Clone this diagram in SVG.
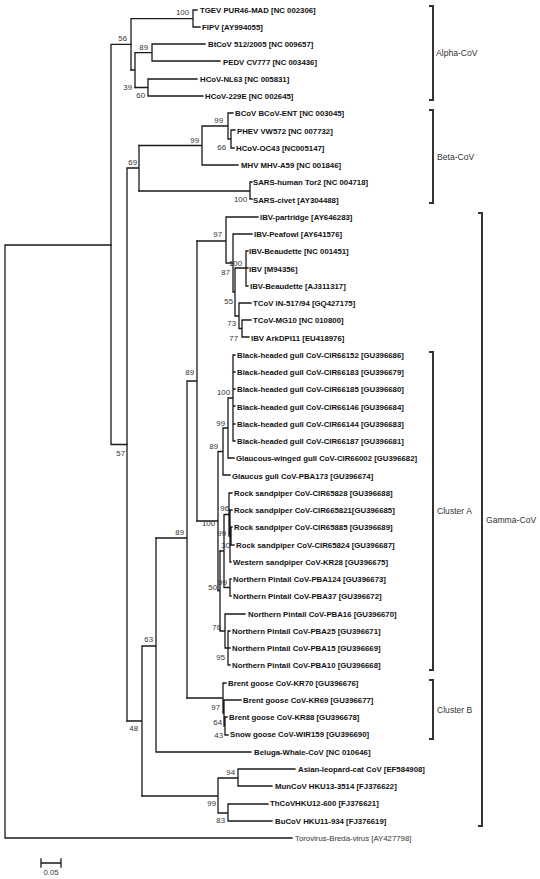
<svg xmlns="http://www.w3.org/2000/svg" width="540" height="879" viewBox="0 0 540 879">
<style>
.t{fill:none;stroke:#1a1a1a;stroke-width:1.3;stroke-linecap:square}
.b{fill:none;stroke:#333;stroke-width:2}
.lf{font-family:"Liberation Sans",Arial,sans-serif;font-size:7.8px;font-weight:bold;fill:#111}
.lr{font-family:"Liberation Sans",Arial,sans-serif;font-size:7.8px;fill:#333}
.bs{font-family:"Liberation Sans",Arial,sans-serif;font-size:7.8px;fill:#333;text-anchor:end}
.g{font-family:"Liberation Sans",Arial,sans-serif;font-size:8.6px;fill:#333}
</style>
<rect width="540" height="879" fill="#fff"/>
<g id="connectors" class="t">
<path d="M5,245V838M5,245H111M5,838H292"/>
<path d="M111,44.3V444.5M111,44.3H131M111,444.5H127"/>
<path d="M131,18.6V70M131,18.6H193M193,10V27M193,10H197M193,27H200"/>
<path d="M131,70H135M135,52.6V87.5M135,52.6H152M152,44V61M152,44H205M152,61H220"/>
<path d="M135,87.5H148M148,79V96M148,79H197M148,96H203"/>
<path d="M127,168V721M127,168H139M139,145.5V191"/>
<path d="M139,145.5H202M202,126V165M202,165H238M202,126H228M228,113V139M228,113H233M228,139H231M231,130V148M231,130H235M231,148H234"/>
<path d="M139,191H250M250,182V199M250,182H252M250,199H252"/>
<path d="M127,721H142M142,646V796M142,646H156M156,538V752M156,752H251"/>
<path d="M156,538H187M187,381V698M187,381H197M197,241V521"/>
<path d="M197,241H226M226,217V263M226,217H258M226,263H233M233,234V292M233,234H252M233,292H235M235,268V316M235,268H246M246,251V286M246,251H248M246,268H248M246,286H248M235,316H239M239,303V328.5M239,303H251M239,328.5H242M242,320V337M242,320H251M242,337H249"/>
<path d="M197,521H218M218,451.5V590.5M218,451.5H223M223,428V475M223,475H230M223,428H228M228,398V458M228,458H234M228,398H233M233,355V441M233,355H235M233,372H235M233,389H235M233,406H235M233,424H235M233,441H235"/>
<path d="M218,590.5H220M220,551V631M220,631H225M225,614V648M225,614H245M225,648H228M228,631V665M228,631H230M228,648H230M228,665H230"/>
<path d="M220,551H224M224,514.5V587.5M224,587.5H230M230,579V596M230,579H231M230,596H231M224,514.5H229M229,493V536M229,493H232M229,536H230M230,510V562M230,510H232M230,562H231M230,536H231M231,527V545M231,527H232M231,545H234"/>
<path d="M187,698H223M223,683V713M223,683H226M223,713H224M224,700V726M224,700H241M224,726H225M225,717V735M225,717H227M225,735H228"/>
<path d="M142,796H218M218,778V813M218,778H238M238,769V786M238,769H295M238,786H272M218,813H228M228,804V821M228,804H268M228,821H272"/>
</g>
<g id="leaves">
<text class="lf" x="200" y="12.8">TGEV PUR46-MAD [NC 002306]</text>
<text class="lf" x="202" y="30">FIPV [AY994055]</text>
<text class="lf" x="208" y="47.3">BtCoV 512/2005 [NC 009657]</text>
<text class="lf" x="223" y="64.5">PEDV CV777 [NC 003436]</text>
<text class="lf" x="200" y="81.8">HCoV-NL63 [NC 005831]</text>
<text class="lf" x="205" y="99">HCoV-229E [NC 002645]</text>
<text class="lf" x="235" y="116.3">BCoV BCoV-ENT [NC 003045]</text>
<text class="lf" x="237" y="133.5">PHEV VW572 [NC 007732]</text>
<text class="lf" x="236" y="150.8">HCoV-OC43 [NC005147]</text>
<text class="lf" x="241" y="168">MHV MHV-A59 [NC 001846]</text>
<text class="lf" x="253" y="185.3">SARS-human Tor2 [NC 004718]</text>
<text class="lf" x="253" y="202.5">SARS-civet [AY304488]</text>
<text class="lf" x="260" y="219.8">IBV-partridge [AY646283]</text>
<text class="lf" x="254" y="237">IBV-Peafowl [AY641576]</text>
<text class="lf" x="249" y="254.3">IBV-Beaudette [NC 001451]</text>
<text class="lf" x="249" y="271.5">IBV [M94356]</text>
<text class="lf" x="250" y="288.8">IBV-Beaudette [AJ311317]</text>
<text class="lf" x="253" y="306">TCoV IN-517/94 [GQ427175]</text>
<text class="lf" x="253" y="323.3">TCoV-MG10 [NC 010800]</text>
<text class="lf" x="251" y="340.5">IBV ArkDPI11 [EU418976]</text>
<text class="lf" x="237" y="357.8">Black-headed gull CoV-CIR66152 [GU396686]</text>
<text class="lf" x="237" y="375">Black-headed gull CoV-CIR66183 [GU396679]</text>
<text class="lf" x="237" y="392.3">Black-headed gull CoV-CIR66185 [GU396680]</text>
<text class="lf" x="237" y="409.5">Black-headed gull CoV-CIR66146 [GU396684]</text>
<text class="lf" x="237" y="426.8">Black-headed gull CoV-CIR66144 [GU396683]</text>
<text class="lf" x="237" y="444">Black-headed gull CoV-CIR66187 [GU396681]</text>
<text class="lf" x="236" y="461.3">Glaucous-winged gull CoV-CIR66002 [GU396682]</text>
<text class="lf" x="232" y="478.5">Glaucus gull CoV-PBA173 [GU396674]</text>
<text class="lf" x="234" y="495.8">Rock sandpiper CoV-CIR65828 [GU396688]</text>
<text class="lf" x="234" y="513">Rock sandpiper CoV-CIR665821[GU396685]</text>
<text class="lf" x="234" y="530.3">Rock sandpiper CoV-CIR65885 [GU396689]</text>
<text class="lf" x="236" y="547.5">Rock sandpiper CoV-CIR65824 [GU396687]</text>
<text class="lf" x="233" y="564.8">Western sandpiper CoV-KR28 [GU396675]</text>
<text class="lf" x="233" y="582">Northern Pintail CoV-PBA124 [GU396673]</text>
<text class="lf" x="233" y="599.3">Northern Pintail CoV-PBA37 [GU396672]</text>
<text class="lf" x="248" y="616.5">Northern Pintail CoV-PBA16 [GU396670]</text>
<text class="lf" x="232" y="633.8">Northern Pintail CoV-PBA25 [GU396671]</text>
<text class="lf" x="232" y="651">Northern Pintail CoV-PBA15 [GU396669]</text>
<text class="lf" x="232" y="668.3">Northern Pintail CoV-PBA10 [GU396668]</text>
<text class="lf" x="228" y="685.5">Brent goose CoV-KR70 [GU396676]</text>
<text class="lf" x="243" y="702.8">Brent goose CoV-KR69 [GU396677]</text>
<text class="lf" x="229" y="720">Brent goose CoV-KR88 [GU396678]</text>
<text class="lf" x="230" y="737.3">Snow goose CoV-WIR159 [GU396690]</text>
<text class="lf" x="254" y="754.5">Beluga-Whale-CoV [NC 010646]</text>
<text class="lf" x="298" y="771.8">Asian-leopard-cat CoV [EF584908]</text>
<text class="lf" x="275" y="789">MunCoV HKU13-3514 [FJ376622]</text>
<text class="lf" x="270" y="806.3">ThCoVHKU12-600 [FJ376621]</text>
<text class="lf" x="275" y="823.5">BuCoV HKU11-934 [FJ376619]</text>
<text class="lr" x="295" y="840.8">Torovirus-Breda-virus [AY427798]</text>
</g>
<g id="bootstrap">
<text class="bs" x="189" y="15">100</text>
<text class="bs" x="127" y="41">56</text>
<text class="bs" x="148" y="50">89</text>
<text class="bs" x="132" y="90">39</text>
<text class="bs" x="145" y="98">60</text>
<text class="bs" x="223" y="123">99</text>
<text class="bs" x="199" y="143">99</text>
<text class="bs" x="226" y="150">66</text>
<text class="bs" x="137" y="165">69</text>
<text class="bs" x="247" y="202">100</text>
<text class="bs" x="222" y="237">97</text>
<text class="bs" x="242" y="266">100</text>
<text class="bs" x="230" y="275">87</text>
<text class="bs" x="233" y="304">55</text>
<text class="bs" x="236" y="326">73</text>
<text class="bs" x="238" y="341">77</text>
<text class="bs" x="194" y="375">89</text>
<text class="bs" x="230" y="395">100</text>
<text class="bs" x="225" y="426">99</text>
<text class="bs" x="218" y="449">89</text>
<text class="bs" x="125" y="456">57</text>
<text class="bs" x="229" y="511">96</text>
<text class="bs" x="215" y="526">100</text>
<text class="bs" x="184" y="535">89</text>
<text class="bs" x="226" y="536">99</text>
<text class="bs" x="230" y="548">30</text>
<text class="bs" x="227" y="585">99</text>
<text class="bs" x="217" y="590">50</text>
<text class="bs" x="221" y="630">76</text>
<text class="bs" x="153" y="642">63</text>
<text class="bs" x="225" y="660">95</text>
<text class="bs" x="220" y="710">97</text>
<text class="bs" x="222" y="725">64</text>
<text class="bs" x="138" y="731">48</text>
<text class="bs" x="223" y="738">43</text>
<text class="bs" x="235" y="775">94</text>
<text class="bs" x="216" y="806">99</text>
<text class="bs" x="225" y="823">83</text>
</g>
<g id="alpha-cov"><path class="b" d="M429,6H433V100H429"/><text class="g" x="436" y="56">Alpha-CoV</text></g>
<g id="beta-cov"><path class="b" d="M429,110H433V203H429"/><text class="g" x="437" y="160">Beta-CoV</text></g>
<g id="cluster-a"><path class="b" d="M429,352H433V670H429"/><text class="g" x="437" y="514">Cluster A</text></g>
<g id="cluster-b"><path class="b" d="M429,680H433V739H429"/><text class="g" x="437" y="713">Cluster B</text></g>
<g id="gamma-cov"><path class="b" d="M478,213H482V826H478"/><text class="g" x="486" y="523">Gamma-CoV</text></g>
<g id="scale"><path class="t" d="M41,863H61M41,859V867M61,859V867"/><text class="lr" x="51" y="875" text-anchor="middle">0.05</text></g>
</svg>
